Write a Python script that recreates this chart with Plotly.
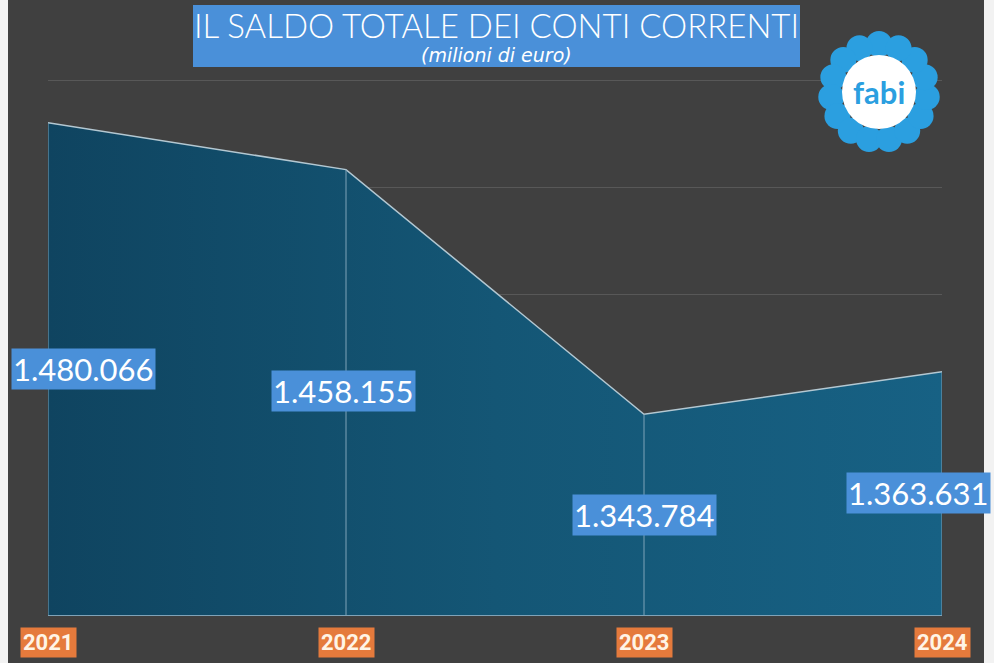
import math
import plotly.graph_objects as go

years = [2021, 2022, 2023, 2024]
saldo = [1480066, 1458155, 1343784, 1363631]
year_labels = ["2021", "2022", "2023", "2024"]
grid_vals = [1400000, 1450000, 1500000]

title_text = "IL SALDO TOTALE DEI CONTI CORRENTI"
subtitle_text = "(milioni di euro)"

# figure geometry (pixels)
W, H = 994, 663
L, R, T, B = 48, 52, 79, 48
PW, PH = W - L - R, H - T - B


def px(x):
    return (x - L) / PW


def py(y):
    return (H - B - y) / PH


BG = "#404040"
LABEL_BLUE = "#4a90d9"
ORANGE = "#e57a3c"

fig = go.Figure()

# area with horizontal gradient
fig.add_trace(go.Scatter(
    x=years, y=saldo, mode="lines",
    line=dict(color="#b4c8d2", width=1.5),
    fill="tozeroy",
    fillgradient=dict(type="horizontal",
                      colorscale=[[0, "#0f4460"], [0.5, "#145675"], [1, "#176184"]]),
    hoverinfo="skip", showlegend=False
))

# vertical drop lines at each year
drop_x, drop_y = [], []
for yr, v in zip(years, saldo):
    drop_x += [yr, yr, None]
    drop_y += [1250000, v, None]
fig.add_trace(go.Scatter(
    x=drop_x, y=drop_y, mode="lines",
    line=dict(color="#7fa3b8", width=1),
    hoverinfo="skip", showlegend=False
))

shapes = [
    # dark panel with light strips at the sides
    dict(type="rect", xref="paper", yref="paper", layer="below",
         x0=px(8), x1=px(984), y0=py(H), y1=py(0),
         fillcolor=BG, line=dict(width=0)),
    # title box
    dict(type="rect", xref="paper", yref="paper",
         x0=px(193), x1=px(800), y0=py(67), y1=py(5),
         fillcolor=LABEL_BLUE, line=dict(width=0)),
]

# fabi logo: petals around a white disc
cx, cy = px(879), py(92)
n_petals = 15
for i in range(n_petals):
    a = 2 * math.pi * i / n_petals + math.pi / 2
    dx, dy = 48 * math.cos(a), 48 * math.sin(a)
    shapes.append(dict(type="circle", xref="paper", yref="paper",
                       xsizemode="pixel", ysizemode="pixel",
                       xanchor=cx, yanchor=cy,
                       x0=dx - 13, x1=dx + 13, y0=dy - 13, y1=dy + 13,
                       fillcolor="#2b9fe0", line=dict(width=0)))
shapes.append(dict(type="circle", xref="paper", yref="paper",
                   xsizemode="pixel", ysizemode="pixel",
                   xanchor=cx, yanchor=cy, x0=-37, x1=37, y0=-37, y1=37,
                   fillcolor="white", line=dict(width=0)))

center = dict(xanchor="center", yanchor="middle", showarrow=False)

annotations = [
    dict(text=title_text, xref="paper", yref="paper", x=px(496.5), y=py(25),
         font=dict(family="Lato", size=33, color="white", weight=300), **center),
    dict(text="<i>" + subtitle_text + "</i>", xref="paper", yref="paper",
         x=px(496.5), y=py(55),
         font=dict(family="DejaVu Sans", size=19, color="white"), **center),
    dict(text="fabi", xref="paper", yref="paper", x=cx, y=cy,
         font=dict(family="Lato", size=31, color="#2b9fe0", weight="bold"), **center),
]

# value labels
label_y = [py(369), py(391), py(515), py(493)]
label_dx = [35, -3, 0, -24]
for yr, v, ly, dx in zip(years, saldo, label_y, label_dx):
    annotations.append(dict(
        text=f"{v:,}".replace(",", "."), xref="x", yref="paper",
        x=yr, y=ly, xshift=dx, bgcolor=LABEL_BLUE, borderpad=1,
        font=dict(family="Lato", size=31, color="white"), **center))

# year labels
for yr, lab in zip(years, year_labels):
    annotations.append(dict(
        text=lab, xref="x", yref="paper", x=yr, y=py(642),
        bgcolor=ORANGE, borderpad=2,
        font=dict(family="Roboto", size=22, color="#fff4e6", weight="bold"), **center))

fig.update_layout(
    width=W, height=H,
    margin=dict(l=L, r=R, t=T, b=B),
    paper_bgcolor="#f2f2f2",
    plot_bgcolor="rgba(0,0,0,0)",
    xaxis=dict(range=[2021, 2024], showgrid=False, zeroline=False,
               showticklabels=False, showline=True, linecolor="#7fa3b8",
               linewidth=1),
    yaxis=dict(range=[1250000, 1500500], tickvals=grid_vals, showgrid=True,
               gridcolor="#585858", gridwidth=1, zeroline=False,
               showticklabels=False),
    shapes=shapes,
    annotations=annotations,
    showlegend=False,
)

fig.write_html("out.html", config={"displayModeBar": False},
               post_script="document.body.style.margin='0';")
